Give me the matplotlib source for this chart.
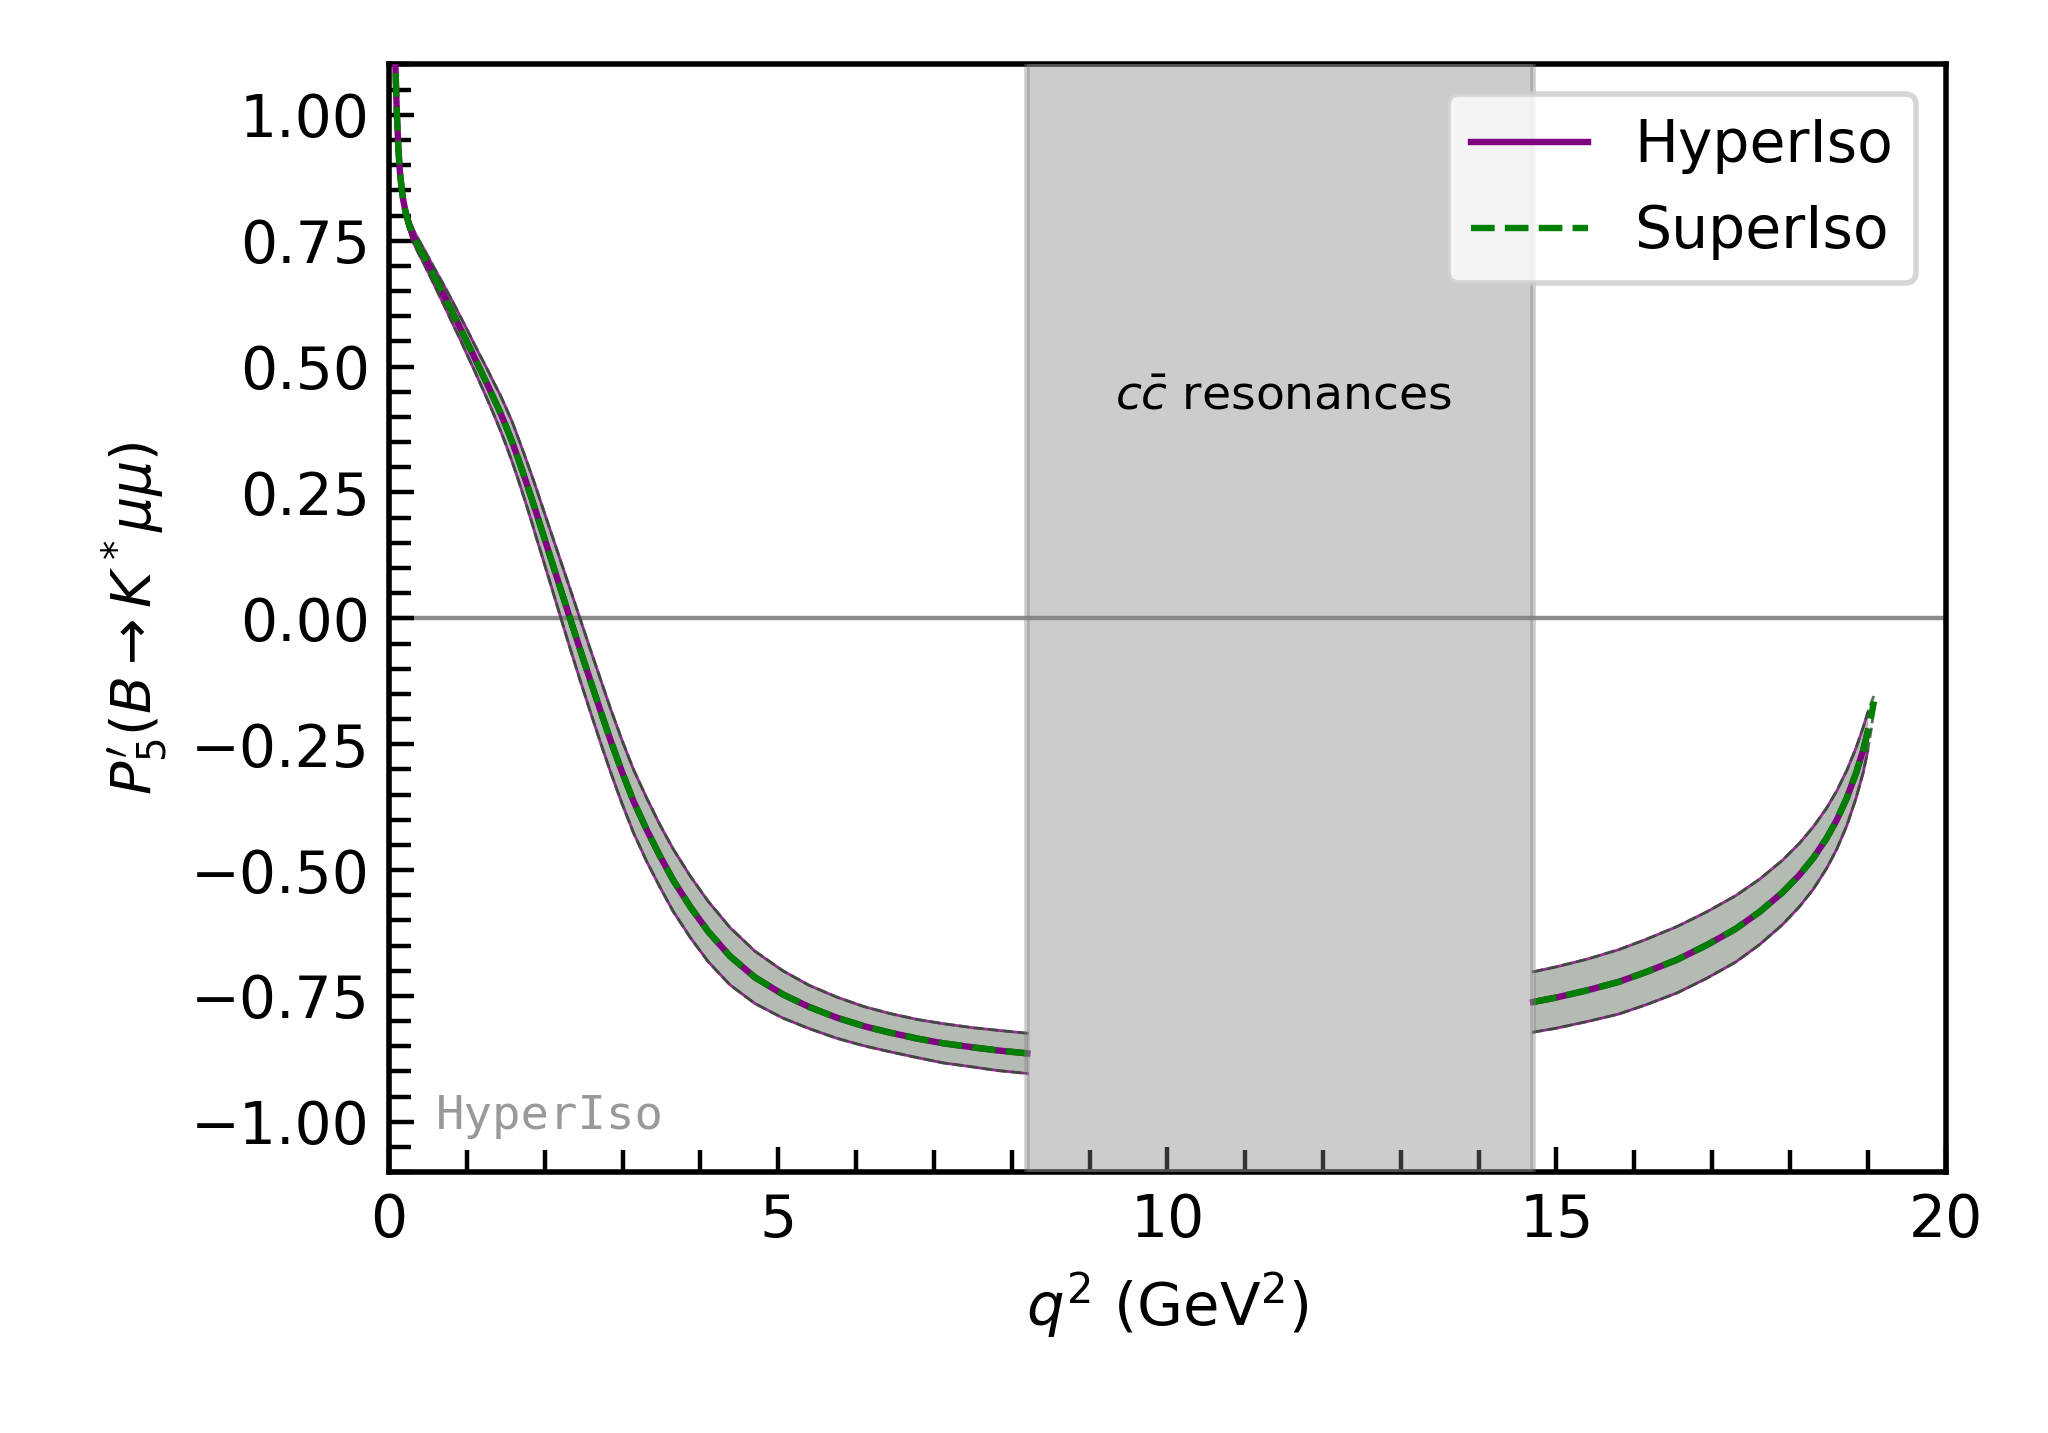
import numpy as np
import matplotlib
matplotlib.use("Agg")
import matplotlib.pyplot as plt
from matplotlib.ticker import MultipleLocator, FuncFormatter

# ---------------- data ----------------
# low-q2 region (below the charmonium resonances)
q_low = [0.07, 0.10, 0.12, 0.14, 0.16, 0.18, 0.21, 0.25, 0.29, 0.33, 0.38, 0.45,
         0.53, 0.62, 0.72, 0.81, 0.91, 1.00, 1.10, 1.18, 1.27, 1.35, 1.43, 1.50,
         1.58, 1.64, 1.71, 1.78, 1.84, 1.90, 1.96, 2.08, 2.20, 2.32, 2.45, 2.58,
         2.71, 2.84, 2.99, 3.14, 3.31, 3.48, 3.65, 3.87, 4.10, 4.38, 4.70, 5.06,
         5.40, 5.75, 6.10, 6.44, 6.80, 7.12, 7.50, 7.81, 8.20]
p5_low = [1.15, 1.00, 0.93, 0.885, 0.855, 0.832, 0.808, 0.785, 0.767, 0.753, 0.738, 0.718,
          0.694, 0.667, 0.637, 0.609, 0.578, 0.549, 0.517, 0.491, 0.462, 0.435, 0.408, 0.382,
          0.351, 0.325, 0.294, 0.262, 0.234, 0.205, 0.176, 0.118, 0.060, 0.002, -0.060, -0.121,
          -0.181, -0.240, -0.304, -0.363, -0.420, -0.472, -0.520, -0.573, -0.622, -0.671, -0.713, -0.747,
          -0.772, -0.793, -0.810, -0.823, -0.835, -0.844, -0.852, -0.858, -0.864]
err_low = [0.01, 0.01, 0.01, 0.01, 0.01, 0.011, 0.012, 0.012, 0.013, 0.013, 0.014, 0.015,
           0.016, 0.018, 0.02, 0.022, 0.023, 0.025, 0.026, 0.028, 0.03, 0.032, 0.035, 0.037,
           0.04, 0.041, 0.043, 0.045, 0.047, 0.049, 0.05, 0.053, 0.056, 0.059, 0.061, 0.062,
           0.063, 0.063, 0.063, 0.063, 0.063, 0.062, 0.062, 0.061, 0.06, 0.057, 0.052, 0.047,
           0.043, 0.041, 0.039, 0.038, 0.038, 0.039, 0.039, 0.04, 0.04]

# high-q2 region (above the charmonium resonances)
q_high = [14.70, 15.00, 15.39, 15.80, 16.16, 16.55, 16.93, 17.30, 17.61, 17.90,
          18.12, 18.30, 18.47, 18.60, 18.73, 18.85, 18.94, 19.00]
p5_high = [-0.762, -0.753, -0.739, -0.722, -0.702, -0.678, -0.649, -0.617, -0.583, -0.545,
           -0.510, -0.476, -0.437, -0.401, -0.357, -0.307, -0.262, -0.225]
err_high = [0.060, 0.061, 0.062, 0.064, 0.065, 0.066, 0.066, 0.066, 0.065, 0.064,
            0.063, 0.062, 0.060, 0.058, 0.055, 0.050, 0.045, 0.038]

# SuperIso reaches slightly further
q_high_si = [14.70, 15.00, 15.39, 15.80, 16.16, 16.55, 16.93, 17.30, 17.61, 17.90,
             18.12, 18.30, 18.47, 18.60, 18.73, 18.85, 18.94, 19.00, 19.05, 19.08]
p5_high_si = [-0.762, -0.753, -0.739, -0.722, -0.702, -0.678, -0.649, -0.617, -0.583, -0.545,
              -0.510, -0.476, -0.437, -0.401, -0.357, -0.307, -0.262, -0.225, -0.190, -0.165]
err_high_si = [0.060, 0.061, 0.062, 0.064, 0.065, 0.066, 0.066, 0.066, 0.065, 0.064,
               0.063, 0.062, 0.060, 0.058, 0.055, 0.050, 0.045, 0.038, 0.025, 0.012]

resonance_region = [8.2, 14.7]
series_labels = ["HyperIso", "SuperIso"]

# ---------------- figure ----------------
fig = plt.figure(figsize=(5.12, 3.5825), dpi=400)
ax = fig.add_axes([0.19, 0.182, 0.76, 0.773])

purple = "purple"
green = "green"

segments = [(q_low, p5_low, err_low, q_low, p5_low, err_low),
            (q_high, p5_high, err_high, q_high_si, p5_high_si, err_high_si)]

for i, (qh, ph, eh, qs, ps, es) in enumerate(segments):
    qh = np.array(qh); ph = np.array(ph); eh = np.array(eh)
    qs = np.array(qs); ps = np.array(ps); es = np.array(es)
    # HyperIso band
    ax.fill_between(qh, ph - eh, ph + eh, color="gray", alpha=0.5, lw=0, zorder=2)
    ax.plot(qh, ph - eh, color=purple, lw=0.5, alpha=0.8, zorder=3)
    ax.plot(qh, ph + eh, color=purple, lw=0.5, alpha=0.8, zorder=3)
    # SuperIso band
    ax.fill_between(qs, ps - es, ps + es, color=green, alpha=0.06, lw=0, zorder=2)
    ax.plot(qs, ps - es, color="#2f4f2f", lw=0.5, ls="--", alpha=0.8, zorder=3)
    ax.plot(qs, ps + es, color="#2f4f2f", lw=0.5, ls="--", alpha=0.8, zorder=3)
    # central lines
    ax.plot(qh, ph, color=purple, lw=1.15, zorder=4,
            label=series_labels[0] if i == 0 else None)
    ax.plot(qs, ps, color=green, lw=1.15, ls="--", zorder=5,
            label=series_labels[1] if i == 0 else None)

ax.axvspan(resonance_region[0], resonance_region[1], facecolor="gray",
           edgecolor="gray", alpha=0.4, lw=1.0, zorder=6)
ax.axhline(0, color="gray", lw=0.8, alpha=0.9, zorder=1)

ax.text(11.5, 0.44, r"$c\bar{c}$ resonances", fontsize=8.5, ha="center",
        va="center", zorder=7)
ax.text(0.03, 0.03, "HyperIso", transform=ax.transAxes, fontsize=8.5,
        family="DejaVu Sans Mono", color="#999999", ha="left", va="bottom")

ax.set_xlim(0, 20)
ax.set_ylim(-1.1, 1.1)
ax.xaxis.set_major_locator(MultipleLocator(5))
ax.xaxis.set_minor_locator(MultipleLocator(1))
ax.yaxis.set_major_locator(MultipleLocator(0.25))
ax.yaxis.set_minor_locator(MultipleLocator(0.05))
ax.yaxis.set_major_formatter(FuncFormatter(lambda v, p: f"{v:.2f}".replace("-", "\u2212")))
ax.tick_params(which="both", direction="in", labelsize=10.5, top=False, right=False)
ax.tick_params(which="major", length=4.5, width=0.8)
ax.tick_params(which="minor", length=4, width=0.8)
for s in ax.spines.values():
    s.set_linewidth(1.0)

ax.set_xlabel(r"$q^2$ (GeV$^2$)", fontsize=10.7)
ax.set_ylabel(r"$P_5'(B{\to}K^* \mu\mu)$", fontsize=10)

leg = ax.legend(loc="upper right", fontsize=10.5)
leg.set_zorder(10)

fig.savefig("out.png", dpi=400)
